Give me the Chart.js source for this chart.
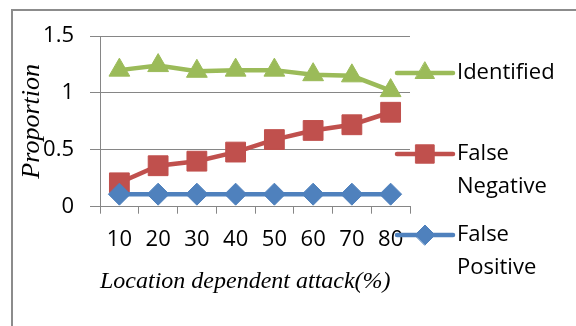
<!DOCTYPE html>
<html>
<head>
<meta charset="utf-8">
<script src="https://cdn.jsdelivr.net/npm/chart.js@4"></script>
<style>
  html, body { margin: 0; padding: 0; background: #ffffff; }
  #wrap { width: 576px; height: 326px; }
</style>
</head>
<body>
<div id="wrap"><canvas id="c" width="576" height="326"></canvas></div>
<script>
const categories = ['10', '20', '30', '40', '50', '60', '70', '80'];
const identified = [1.20, 1.24, 1.19, 1.20, 1.20, 1.16, 1.15, 1.02];
const falseNegative = [0.21, 0.36, 0.40, 0.48, 0.59, 0.67, 0.72, 0.83];
const falsePositive = [0.11, 0.11, 0.11, 0.11, 0.11, 0.11, 0.11, 0.11];
const seriesNames = ['Identified', 'False Negative', 'False Positive'];
const yTickLabels = ['0', '0.5', '1', '1.5'];
const yTitle = 'Proportion';
const xTitle = 'Location dependent attack(%)';

const GREEN = '#9BBB59', RED = '#C0504D', BLUE = '#4F81BD';
const AXIS = '#868686';

const frameAndLegend = {
  id: 'frameAndLegend',
  afterDraw(chart) {
    const ctx = chart.ctx;
    ctx.save();
    // outer frame (top + left)
    ctx.strokeStyle = '#8c8c8c';
    ctx.lineWidth = 2;
    ctx.beginPath();
    ctx.moveTo(576, 10); ctx.lineTo(12, 10); ctx.lineTo(12, 326);
    ctx.stroke();
    // legend
    const x0 = 397, x1 = 453, tx = 457;
    chart.data.datasets.forEach((ds, i) => {
      const y = 73 + 81 * i;
      ctx.strokeStyle = ds.borderColor;
      ctx.lineWidth = ds.borderWidth;
      ctx.lineCap = 'round';
      ctx.beginPath(); ctx.moveTo(x0, y); ctx.lineTo(x1, y); ctx.stroke();
      ctx.fillStyle = ds.pointBackgroundColor;
      ctx.strokeStyle = ds.pointBorderColor;
      ctx.lineWidth = 1;
      Chart.helpers.drawPoint(ctx, {
        pointStyle: ds.pointStyle, radius: ds.pointRadius - 1, rotation: 0, borderWidth: 1
      }, (x0 + x1) / 2, y);
      ctx.fillStyle = '#000000';
      ctx.font = '22px "Open Sans"';
      ctx.textBaseline = 'middle';
      ctx.textAlign = 'left';
      const words = ds.label.split(' ');
      words.forEach((w, k) => ctx.fillText(w, tx, y + 33 * k));
    });
    ctx.restore();
  }
};

new Chart(document.getElementById('c'), {
  type: 'line',
  data: {
    labels: categories,
    datasets: [
      { label: seriesNames[0], data: identified, order: 2,
        borderColor: GREEN, borderWidth: 4.5, pointStyle: 'triangle', pointRadius: 12,
        pointBackgroundColor: GREEN, pointBorderColor: GREEN, pointBorderWidth: 1, tension: 0 },
      { label: seriesNames[1], data: falseNegative, order: 1,
        borderColor: RED, borderWidth: 4.5, pointStyle: 'rect', pointRadius: 14,
        pointBackgroundColor: RED, pointBorderColor: RED, pointBorderWidth: 1, tension: 0 },
      { label: seriesNames[2], data: falsePositive, order: 0,
        borderColor: BLUE, borderWidth: 4.5, pointStyle: 'rectRot', pointRadius: 11,
        pointBackgroundColor: BLUE, pointBorderColor: BLUE, pointBorderWidth: 1, tension: 0 }
    ]
  },
  options: {
    responsive: false,
    animation: false,
    devicePixelRatio: 1,
    layout: { padding: { left: 0, right: 166, top: 36, bottom: 0 } },
    plugins: { legend: { display: false }, tooltip: { enabled: false } },
    scales: {
      x: {
        offset: true,
        grid: { display: true, drawOnChartArea: false, offset: true, tickLength: 7, color: AXIS, lineWidth: 1 },
        border: { display: true, color: AXIS, width: 1 },
        ticks: { color: '#000', font: { family: 'Open Sans', size: 22 }, padding: 13, maxRotation: 0, autoSkip: false },
        title: { display: true, text: xTitle, align: 'start', color: '#000',
                 font: { family: 'Liberation Serif', size: 24, style: 'italic' }, padding: { top: 0, bottom: 30 } },
        afterFit(s) { s.height = 119.3; }
      },
      y: {
        min: 0, max: 1.5,
        grid: { color: AXIS, lineWidth: 1, tickLength: 10 },
        border: { display: true, color: AXIS, width: 1 },
        ticks: { stepSize: 0.5, color: '#000', font: { family: 'Open Sans', size: 22 }, padding: 16,
                 callback: (v, i) => yTickLabels[i] },
        title: { display: true, text: yTitle, color: '#000',
                 font: { family: 'Liberation Serif', size: 26, style: 'italic' }, padding: { top: 17, bottom: 0 } },
        afterFit(s) { s.width = 100; }
      }
    }
  },
  plugins: [frameAndLegend]
});
</script>
</body>
</html>
